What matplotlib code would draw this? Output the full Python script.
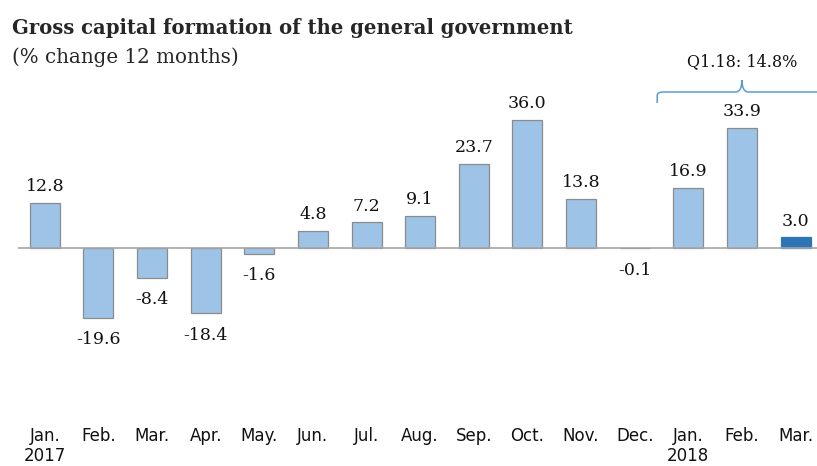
import matplotlib
matplotlib.use("Agg")
import matplotlib.pyplot as plt
from matplotlib.path import Path
from matplotlib.patches import PathPatch

months = ["Jan.\n2017", "Feb.", "Mar.", "Apr.", "May.", "Jun.", "Jul.", "Aug.",
          "Sep.", "Oct.", "Nov.", "Dec.", "Jan.\n2018", "Feb.", "Mar."]
values = [12.8, -19.6, -8.4, -18.4, -1.6, 4.8, 7.2, 9.1, 23.7, 36.0, 13.8, -0.1, 16.9, 33.9, 3.0]
title = "Gross capital formation of the general government"
subtitle = "(% change 12 months)"
q_label = "Q1.18: 14.8%"

narrow = "DejaVu Sans Condensed"
serif = "DejaVu Serif"

W, H = 817, 466
fig = plt.figure(figsize=(W / 100, H / 100), dpi=100)
left, right, top, bottom = 18, 817, 60, 424
ax = fig.add_axes([left / W, 1 - bottom / H, (right - left) / W, (bottom - top) / H])
zero_px = 248
scale = 3.55
ax.set_ylim((zero_px - bottom) / scale, (zero_px - top) / scale)
x = list(range(len(values)))
ax.set_xlim(-0.5, 14.4)

light = "#9dc3e6"
dark = "#2e75b6"
colors = [light] * (len(values) - 1) + [dark]
edges = ["#8c8c8c"] * (len(values) - 1) + ["#2e75b6"]
ax.bar(x, values, width=0.56, color=colors, edgecolor=edges, linewidth=0.9, zorder=2)
ax.axhline(0, color="#a6a6a6", linewidth=1.2, zorder=3)

for xi, v in zip(x, values):
    if v >= 0:
        ax.text(xi, v + 2.2, f"{v:.1f}", ha="center", va="bottom",
                fontsize=12.5, family=serif, color="#111111")
    else:
        ax.text(xi, v - 3.8, f"{v:.1f}", ha="center", va="top",
                fontsize=12.5, family=serif, color="#111111")

for s in ax.spines.values():
    s.set_visible(False)
ax.set_yticks([])
ax.set_xticks(x)
ax.set_xticklabels(months, fontsize=12, family=narrow, color="#111111", linespacing=1.15)
ax.tick_params(axis="x", length=0, pad=2)

# curly bracket above Q1 2018
bc = "#5b9bd5"
x0, xm, x1 = 11.42, 13.0, 14.45
yb = (zero_px - 92) / scale
ylow = (zero_px - 103) / scale
ytip = (zero_px - 80) / scale
r = 0.12
verts = [(x0, ylow), (x0, yb - 1.0), (x0, yb), (x0 + r, yb),
         (xm - r, yb), (xm, yb), (xm, ytip),
         (xm, yb), (xm + r, yb),
         (x1, yb)]
codes = [Path.MOVETO, Path.LINETO, Path.CURVE3, Path.CURVE3,
         Path.LINETO, Path.CURVE3, Path.CURVE3,
         Path.CURVE3, Path.CURVE3,
         Path.LINETO]
ax.add_patch(PathPatch(Path(verts, codes), fill=False, edgecolor=bc, linewidth=1.1, clip_on=False))
ax.text(xm, (zero_px - 62) / scale, q_label, ha="center", va="center",
        fontsize=11.5, family=serif, color="#111111")

fig.text(12 / W, 1 - 34 / H, title, fontsize=14.1, fontweight="bold", family=serif,
         color="#262626", va="baseline")
fig.text(12 / W, 1 - 63 / H, subtitle, fontsize=14.3, family=serif,
         color="#262626", va="baseline")

fig.savefig("out.png", dpi=100)
